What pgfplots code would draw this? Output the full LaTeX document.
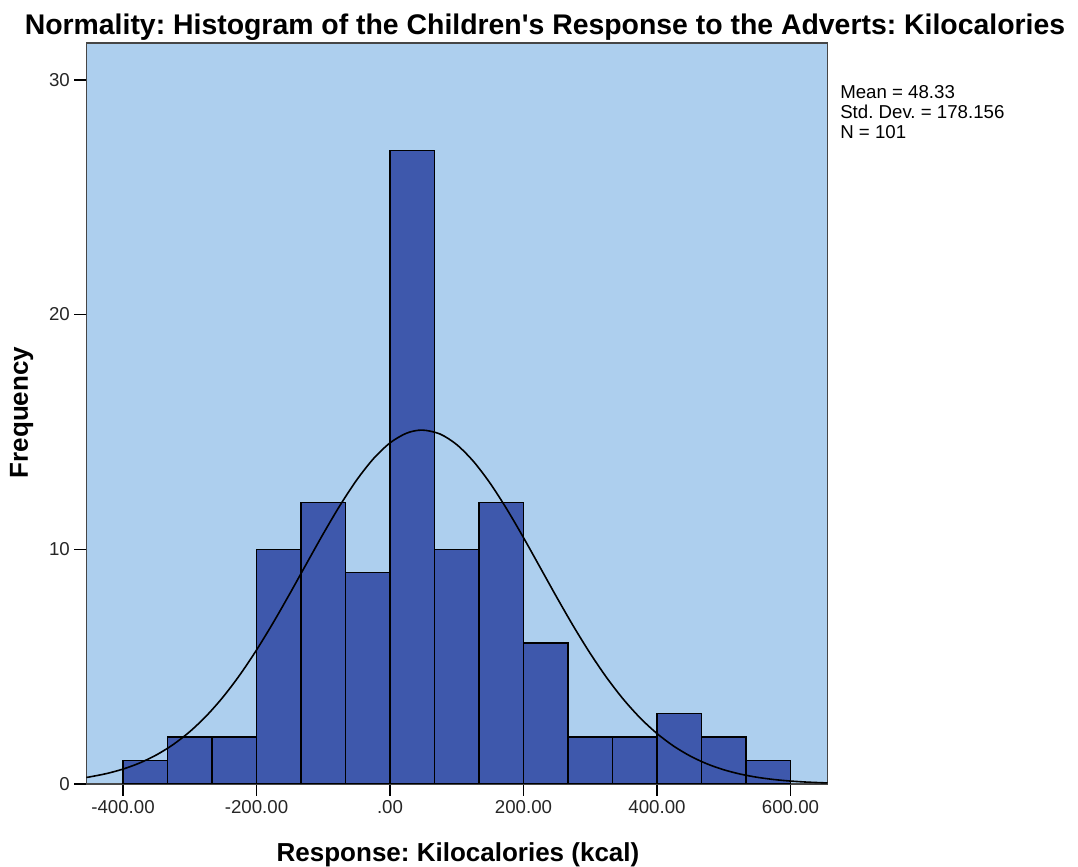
\documentclass[border=0pt]{standalone}
\usepackage{pgfplots}
\pgfplotsset{compat=1.18}
\usepackage{fontspec}
\setmainfont{Liberation Sans}
\frenchspacing
\definecolor{bgblue}{RGB}{173,207,238}
\definecolor{barblue}{RGB}{62,88,172}
\definecolor{framegray}{RGB}{70,70,70}
\begin{document}
\begin{tikzpicture}
\begin{axis}[
  name=ax,
  scale only axis,
  width=555.75pt, height=555.75pt,
  xmin=-454.7, xmax=655.4,
  ymin=0, ymax=31.57,
  axis background/.style={fill=bgblue},
  axis line style={framegray, line width=1.4pt},
  tick align=outside,
  major tick length=9pt,
  tick style={black, line width=1.1pt},
  xtick={-400,-200,0,200,400,600},
  xticklabels={-400.00,-200.00,.00,200.00,400.00,600.00},
  ytick={0,10,20,30},
  xtick pos=bottom, ytick pos=left,
  ticklabel style={font=\fontsize{14}{16}\selectfont, text=black!85},
  /pgf/number format/assume math mode=true,
  clip=true,
]
\addplot[ybar interval, fill=barblue, draw=black, line width=1.1pt] coordinates {
(-400,1) (-333.33,2) (-266.67,2) (-200,10) (-133.33,12) (-66.67,9) (0,27)
(66.67,10) (133.33,12) (200,6) (266.67,2) (333.33,2) (400,3) (466.67,2)
(533.33,1) (600,1)};
\addplot[black, line width=1.2pt, smooth, mark=none] coordinates {
(-455,0.279) (-450,0.3015) (-425,0.4422) (-400,0.6357) (-375,0.8960)
(-350,1.2382) (-325,1.6781) (-300,2.2296) (-275,2.9047) (-250,3.7107)
(-225,4.6475) (-200,5.7075) (-175,6.8725) (-150,8.1139) (-125,9.3929)
(-100,10.661) (-75,11.865) (-50,12.948) (-25,13.853) (0,14.533)
(25,14.949) (48.33,15.078) (75,14.910) (100,14.457) (125,13.744)
(150,12.812) (175,11.710) (200,10.495) (225,9.2215) (250,7.9450)
(275,6.7117) (300,5.5592) (325,4.5150) (350,3.5953) (375,2.8072)
(400,2.1490) (425,1.6131) (450,1.1873) (475,0.8568) (500,0.6062)
(525,0.4206) (550,0.2861) (575,0.1908) (600,0.1248) (625,0.0800)
(650,0.0503) (655.4,0.046)};
\end{axis}
\node[anchor=base, font=\bfseries\fontsize{21.3}{24}\selectfont]
  at ([shift={(458.5*0.75pt,749*0.75pt)}]ax.south west)
  {Normality: Histogram of the Children\textquotesingle s Response to the Adverts: Kilocalories};
\node[anchor=base, rotate=90, font=\bfseries\fontsize{19.5}{22}\selectfont]
  at ([shift={(-58.5*0.75pt,371.5*0.75pt)}]ax.south west) {Frequency};
\node[anchor=base, font=\bfseries\fontsize{19.5}{22}\selectfont]
  at ([shift={(371.5*0.75pt,-78*0.75pt)}]ax.south west) {Response: Kilocalories (kcal)};
\node[anchor=base west, inner sep=0pt, font=\fontsize{14}{16}\selectfont]
  at ([shift={(753.5*0.75pt,685.7*0.75pt)}]ax.south west) {Mean = 48.33};
\node[anchor=base west, inner sep=0pt, font=\fontsize{14}{16}\selectfont]
  at ([shift={(753.5*0.75pt,665.7*0.75pt)}]ax.south west) {Std. Dev. = 178.156};
\node[anchor=base west, inner sep=0pt, font=\fontsize{14}{16}\selectfont]
  at ([shift={(753.5*0.75pt,645.7*0.75pt)}]ax.south west) {N = 101};
\pgfresetboundingbox
\useasboundingbox ([shift={(-86.5*0.75pt,-83*0.75pt)}]ax.south west) rectangle ([shift={(991.5*0.75pt,784*0.75pt)}]ax.south west);
\end{tikzpicture}
\end{document}
